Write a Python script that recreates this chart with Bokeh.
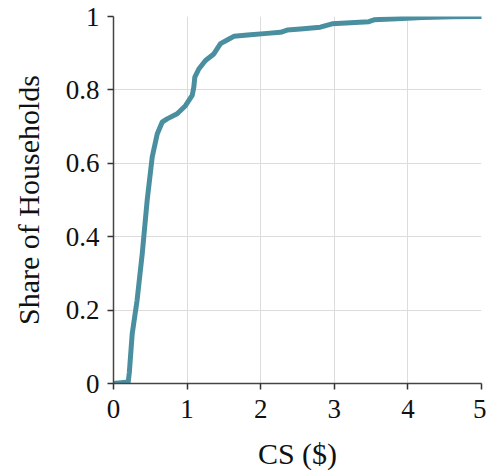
from bokeh.plotting import figure
from bokeh.models import Range1d, FixedTicker, CustomJSTickFormatter
from bokeh.embed import file_html
from bokeh.resources import INLINE

cs_values = [0, 0.1, 0.2, 0.215, 0.254, 0.32, 0.39, 0.458, 0.526, 0.594, 0.661, 0.729,
             0.865, 0.978, 1.069, 1.091, 1.105, 1.159, 1.25, 1.363, 1.454, 1.545, 1.635,
             1.861, 2.088, 2.269, 2.36, 2.54, 2.81, 2.97, 3.47, 3.54, 3.85, 4.2, 4.6, 5.0]
share_values = [0, 0.002, 0.004, 0.03, 0.135, 0.226, 0.353, 0.50, 0.617, 0.680, 0.712, 0.721,
                0.735, 0.757, 0.785, 0.807, 0.835, 0.857, 0.880, 0.898, 0.926, 0.936, 0.946,
                0.950, 0.954, 0.957, 0.963, 0.966, 0.971, 0.980, 0.986, 0.991, 0.994, 0.997, 0.999, 1.0]
x_ticks = [0, 1, 2, 3, 4, 5]
y_ticks = [0, 0.2, 0.4, 0.6, 0.8, 1.0]

FONT = "Liberation Serif"

p = figure(width=486, height=476, output_backend="svg", toolbar_location=None,
           x_range=Range1d(0, 5), y_range=Range1d(0, 1),
           min_border_left=113, min_border_right=5, min_border_top=16, min_border_bottom=93)
p.outline_line_color = None
p.background_fill_color = "white"
p.border_fill_color = "white"

p.line(cs_values, share_values, line_color="#4a8f9f", line_width=5, line_join="round", line_cap="round")

for ax in (p.xaxis[0], p.yaxis[0]):
    ax.axis_line_color = "#444444"
    ax.axis_line_width = 1.5
    ax.major_tick_line_color = "#333333"
    ax.major_tick_line_width = 1.5
    ax.major_tick_out = 6
    ax.major_tick_in = 0
    ax.minor_tick_line_color = None
    ax.major_label_text_font = FONT
    ax.major_label_text_font_size = "27px"
    ax.major_label_text_color = "#111111"
    ax.axis_label_text_font = FONT
    ax.axis_label_text_font_size = "30px"
    ax.axis_label_text_font_style = "normal"
    ax.axis_label_text_color = "#111111"

p.xaxis[0].ticker = FixedTicker(ticks=x_ticks)
p.yaxis[0].ticker = FixedTicker(ticks=y_ticks)
p.yaxis[0].formatter = CustomJSTickFormatter(code="return tick.toFixed(1).replace(/\\.0$/, '');")
p.xaxis[0].formatter = CustomJSTickFormatter(code="return tick.toFixed(0);")
p.xaxis[0].axis_label = "CS ($)"
p.yaxis[0].axis_label = "Share of Households"
p.xaxis[0].major_label_standoff = 10
p.yaxis[0].major_label_standoff = 8
p.xaxis[0].axis_label_standoff = 16
p.yaxis[0].axis_label_standoff = 18

p.xgrid.ticker = FixedTicker(ticks=x_ticks)
p.ygrid.ticker = FixedTicker(ticks=y_ticks)
p.grid.grid_line_color = "#dcdcdc"
p.grid.grid_line_width = 1

open("out.html", "w").write(file_html(p, INLINE))
